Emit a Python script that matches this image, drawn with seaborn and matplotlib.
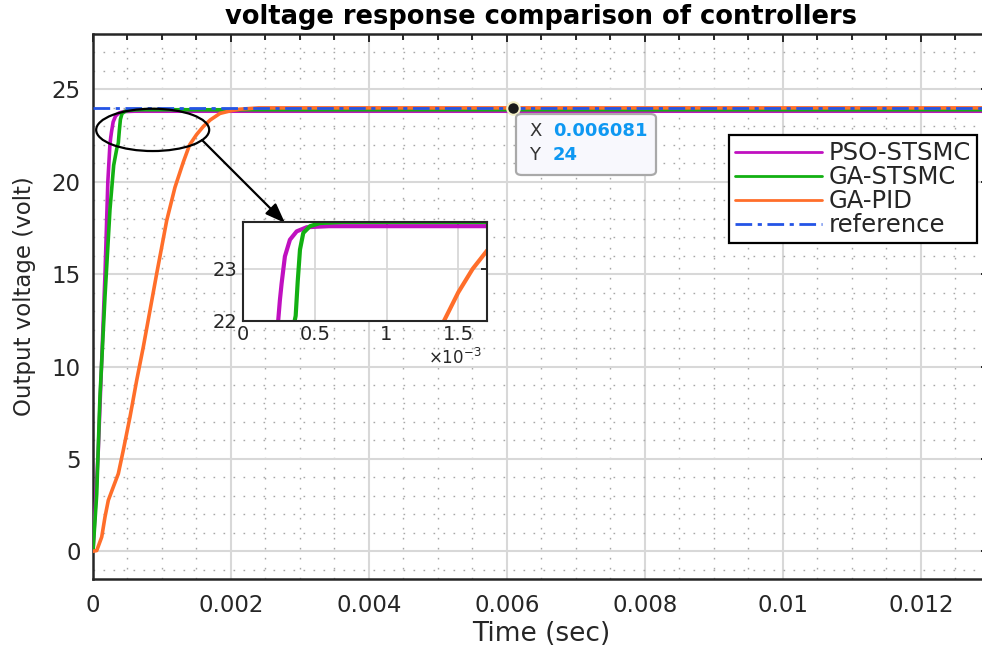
import numpy as np
import matplotlib
matplotlib.use("Agg")
import matplotlib.pyplot as plt
import matplotlib.ticker as mticker
from matplotlib.patches import Ellipse, FancyBboxPatch
import seaborn as sns

# ---- data (time in seconds, voltage in volts) ----
t_pso = [0, 0.077e-3, 0.126e-3, 0.174e-3, 0.215e-3, 0.245e-3, 0.257e-3, 0.269e-3,
         0.292e-3, 0.327e-3, 0.374e-3, 0.444e-3, 0.6e-3, 13e-3]
v_pso = [0, 5.5, 10.3, 15.0, 20.0, 22.0, 22.4, 22.72, 23.24, 23.56, 23.72, 23.8, 23.82, 23.82]

t_ga = [0, 0.054e-3, 0.1e-3, 0.174e-3, 0.246e-3, 0.30e-3, 0.345e-3, 0.367e-3, 0.381e-3,
        0.397e-3, 0.42e-3, 0.467e-3, 0.537e-3, 0.7e-3, 13e-3]
v_ga = [0, 3.1, 8.3, 13.8, 18.5, 20.9, 21.8, 22.1, 22.75, 23.37, 23.69, 23.82, 23.88, 23.9, 23.9]

t_pid = [0, 0.054e-3, 0.126e-3, 0.174e-3, 0.222e-3, 0.294e-3, 0.367e-3, 0.439e-3, 0.536e-3,
         0.633e-3, 0.729e-3, 0.826e-3, 0.923e-3, 0.996e-3, 1.068e-3, 1.188e-3, 1.309e-3,
         1.40e-3, 1.50e-3, 1.60e-3, 1.70e-3, 1.84e-3, 2.0e-3, 2.13e-3, 2.4e-3, 2.8e-3, 13e-3]
v_pid = [0, 0.04, 0.77, 1.86, 2.76, 3.48, 4.2, 5.47, 7.27, 9.25, 11.06, 13.04, 15.03, 16.47,
         17.9, 19.7, 21.07, 22.0, 22.55, 23.0, 23.35, 23.7, 23.85, 23.93, 24.0, 24.0, 24.0]

t_ref = [0, 13e-3]
v_ref = [24, 24]

series_names = ["PSO-STSMC", "GA-STSMC", "GA-PID", "reference"]
series_colors = ["#C010C0", "#12B012", "#FF6E2A", "#2454E6"]

tip_x, tip_y = 0.006081, 24

x_ticks = [0, 0.002, 0.004, 0.006, 0.008, 0.01, 0.012]
x_tick_labels = ["0", "0.002", "0.004", "0.006", "0.008", "0.01", "0.012"]
y_ticks = [0, 5, 10, 15, 20, 25]
inset_x_ticks = [0, 0.5e-3, 1e-3, 1.5e-3]
inset_x_tick_labels = ["0", "0.5", "1", "1.5"]
inset_y_ticks = [22, 23]

# ---- style ----
sns.set_style("white")
plt.rcParams["font.family"] = ["DejaVu Sans"]
ink = "#262626"

W, H = 982, 650
fig = plt.figure(figsize=(W / 100, H / 100), dpi=100)
ax = fig.add_axes([93 / W, 1 - 579 / H, 896 / W, 545 / H])


def style_axes(a, lw_spine, tick_len, minor_len, fsize):
    for s in a.spines.values():
        s.set_visible(True)
        s.set_color(ink)
        s.set_linewidth(lw_spine)
    a.tick_params(which="both", direction="in", top=True, right=True,
                  color=ink, labelcolor=ink, width=1.4, labelsize=fsize)
    a.tick_params(which="major", length=tick_len)
    a.tick_params(which="minor", length=minor_len)


# ---- main curves ----
lw_main = 2.6
sns.lineplot(x=t_pso, y=v_pso, ax=ax, color=series_colors[0], lw=lw_main,
             label=series_names[0], sort=False, estimator=None, zorder=3)
sns.lineplot(x=t_ga, y=v_ga, ax=ax, color=series_colors[1], lw=lw_main,
             label=series_names[1], sort=False, estimator=None, zorder=4)
sns.lineplot(x=t_pid, y=v_pid, ax=ax, color=series_colors[2], lw=lw_main,
             label=series_names[2], sort=False, estimator=None, zorder=5)
sns.lineplot(x=t_ref, y=v_ref, ax=ax, color=series_colors[3], lw=2.0,
             label=series_names[3], sort=False, estimator=None, zorder=6,
             dashes=False)
ax.lines[-1].set_dashes([6, 2, 1.5, 2])

ax.set_xlim(0, 0.012986)
ax.set_ylim(-1.5, 28)
ax.set_xticks(x_ticks)
ax.set_xticklabels(x_tick_labels)
ax.set_yticks(y_ticks)
ax.xaxis.set_minor_locator(mticker.MultipleLocator(0.0005))
ax.yaxis.set_minor_locator(mticker.MultipleLocator(1))
style_axes(ax, 1.8, 6, 4, 16.5)
ax.tick_params(axis="y", pad=9)
ax.tick_params(axis="x", pad=11)
ax.grid(which="major", color="#D8D8D8", lw=1.5, ls="-")
ax.grid(which="minor", color="#A8A8A8", lw=1.0, ls=(0, (1.2, 6)))
ax.set_axisbelow(True)

ax.set_xlabel("Time (sec)", fontsize=19, color=ink, labelpad=3)
ax.set_ylabel("Output voltage (volt)", fontsize=16.5, color=ink)
ax.yaxis.set_label_coords(-0.064, 0.519)
ax.set_title("voltage response comparison of controllers", fontsize=18.5,
             fontweight="bold", color="black", pad=7)

# ---- legend ----
leg = ax.legend(loc="upper right", bbox_to_anchor=(977 / W, 1 - 135 / H),
                bbox_transform=fig.transFigure, fontsize=17.5, frameon=True,
                fancybox=False, framealpha=1, edgecolor="black",
                handlelength=3.55, handletextpad=0.28, labelspacing=0.0,
                borderpad=0.25, borderaxespad=0)
leg.get_frame().set_linewidth(1.6)
for h in leg.get_lines():
    h.set_linewidth(2.0)
leg.set_zorder(20)

# ---- zoom marker: ellipse and arrow ----
ell = Ellipse((0.000865, 22.81), width=0.001638, height=2.29, fill=False,
              edgecolor="black", lw=1.6, zorder=10)
ax.add_patch(ell)
ax.annotate("", xy=(285 / W, 1 - 223 / H), xytext=(202 / W, 1 - 140 / H),
            xycoords="figure fraction", textcoords="figure fraction",
            arrowprops=dict(arrowstyle="-|>,head_length=1.2,head_width=0.45",
                            color="black", lw=1.6, shrinkA=0, shrinkB=0),
            zorder=11)

# ---- data tip ----
ax.plot([tip_x], [tip_y], marker="o", ms=9, mfc="#1A1A1A", mec="#F4F0C8",
        mew=1.5, zorder=12)
box = FancyBboxPatch((516 / W, 1 - 175 / H), 140 / W, 61 / H,
                     boxstyle="round,pad=0,rounding_size=0.006",
                     transform=fig.transFigure, facecolor="#F8F8FD",
                     edgecolor="#A9A9A9", lw=1.6, zorder=15)
fig.patches.append(box)
tip_val_color = "#0E98F2"
fig.text(529 / W, 1 - 131 / H, "X", fontsize=13, color="#333333",
         va="center", ha="left", zorder=16)
fig.text(553 / W, 1 - 131 / H, f"{tip_x:g}", fontsize=13, color=tip_val_color,
         fontweight="bold", va="center", ha="left", zorder=16)
fig.text(529 / W, 1 - 155 / H, "Y", fontsize=13, color="#333333",
         va="center", ha="left", zorder=16)
fig.text(553 / W, 1 - 155 / H, f"{tip_y:g}", fontsize=13, color=tip_val_color,
         fontweight="bold", va="center", ha="left", zorder=16)

# ---- inset ----
axin = fig.add_axes([243 / W, 1 - 321 / H, 244 / W, 99 / H])
axin.set_facecolor("white")
lw_in = 3.0
sns.lineplot(x=t_pso, y=v_pso, ax=axin, color=series_colors[0], lw=lw_in,
             sort=False, estimator=None, legend=False)
sns.lineplot(x=t_ga, y=v_ga, ax=axin, color=series_colors[1], lw=lw_in,
             sort=False, estimator=None, legend=False)
sns.lineplot(x=t_pid, y=v_pid, ax=axin, color=series_colors[2], lw=lw_in,
             sort=False, estimator=None, legend=False)
axin.set_xlim(0, 0.0017)
axin.set_ylim(22, 23.9)
axin.set_xticks(inset_x_ticks)
axin.set_xticklabels(inset_x_tick_labels)
axin.set_yticks(inset_y_ticks)
axin.set_xlabel("")
axin.set_ylabel("")
style_axes(axin, 1.5, 4, 0, 14)
axin.tick_params(axis="x", pad=3)
axin.tick_params(axis="y", pad=4)
axin.grid(which="major", color="#D8D8D8", lw=1.3, ls="-")
axin.set_axisbelow(True)
fig.text(428 / W, 1 - 358 / H, r"$\times10^{-3}$", fontsize=12, color=ink,
         va="center", ha="left")

fig.savefig("out.png", dpi=100)
